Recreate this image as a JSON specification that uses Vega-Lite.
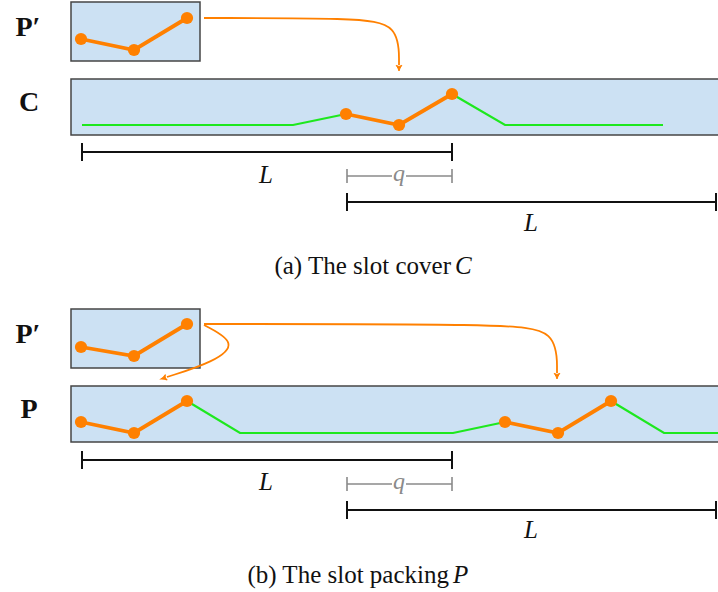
{
  "$schema": "https://vega.github.io/schema/vega-lite/v6.json",
  "width": 718,
  "height": 592,
  "autosize": {"type": "fit", "contains": "padding"},
  "padding": 0,
  "background": "white",
  "config": {"view": {"stroke": null}},
  "datasets": {
    "boxes": [
      {"name": "P' (a)", "x": 71, "x2": 200, "y": 2, "y2": 61},
      {"name": "C", "x": 71, "x2": 724, "y": 79, "y2": 135},
      {"name": "P' (b)", "x": 71, "x2": 200, "y": 309, "y2": 368},
      {"name": "P", "x": 71, "x2": 724, "y": 386, "y2": 442}
    ],
    "segments": [
      {"g": "a-green-1", "kind": "free", "x": 82, "y": 125},
      {"g": "a-green-1", "kind": "free", "x": 293, "y": 125},
      {"g": "a-green-1", "kind": "free", "x": 346, "y": 114},
      {"g": "a-green-2", "kind": "free", "x": 452, "y": 94},
      {"g": "a-green-2", "kind": "free", "x": 505, "y": 125},
      {"g": "a-green-2", "kind": "free", "x": 663, "y": 125},
      {"g": "b-green-1", "kind": "free", "x": 187, "y": 401},
      {"g": "b-green-1", "kind": "free", "x": 240, "y": 433},
      {"g": "b-green-1", "kind": "free", "x": 453, "y": 433},
      {"g": "b-green-1", "kind": "free", "x": 505, "y": 422},
      {"g": "b-green-2", "kind": "free", "x": 611, "y": 401},
      {"g": "b-green-2", "kind": "free", "x": 664, "y": 433},
      {"g": "b-green-2", "kind": "free", "x": 722, "y": 433},
      {"g": "a-piece", "kind": "piece", "x": 81, "y": 39},
      {"g": "a-piece", "kind": "piece", "x": 134, "y": 50},
      {"g": "a-piece", "kind": "piece", "x": 187, "y": 18},
      {"g": "a-cover", "kind": "piece", "x": 346, "y": 114},
      {"g": "a-cover", "kind": "piece", "x": 399, "y": 125},
      {"g": "a-cover", "kind": "piece", "x": 452, "y": 94},
      {"g": "b-piece", "kind": "piece", "x": 81, "y": 347},
      {"g": "b-piece", "kind": "piece", "x": 134, "y": 356},
      {"g": "b-piece", "kind": "piece", "x": 187, "y": 324},
      {"g": "b-pack-1", "kind": "piece", "x": 81, "y": 422},
      {"g": "b-pack-1", "kind": "piece", "x": 134, "y": 433},
      {"g": "b-pack-1", "kind": "piece", "x": 187, "y": 401},
      {"g": "b-pack-2", "kind": "piece", "x": 505, "y": 422},
      {"g": "b-pack-2", "kind": "piece", "x": 558, "y": 433},
      {"g": "b-pack-2", "kind": "piece", "x": 611, "y": 401}
    ],
    "arrows": [
      {"g": "a-shift", "o": 0, "x": 204, "y": 18},
      {"g": "a-shift", "o": 1, "x": 355, "y": 18},
      {"g": "a-shift", "o": 2, "x": 399, "y": 24},
      {"g": "a-shift", "o": 3, "x": 399, "y": 65},
      {"g": "b-loop", "o": 0, "x": 204, "y": 325},
      {"g": "b-loop", "o": 1, "x": 238, "y": 343},
      {"g": "b-loop", "o": 2, "x": 214, "y": 362},
      {"g": "b-loop", "o": 3, "x": 167, "y": 377},
      {"g": "b-shift", "o": 0, "x": 204, "y": 324},
      {"g": "b-shift", "o": 1, "x": 505, "y": 324},
      {"g": "b-shift", "o": 2, "x": 557, "y": 330},
      {"g": "b-shift", "o": 3, "x": 557, "y": 373}
    ],
    "heads": [
      {"g": "a-shift", "dir": "down", "x": 399, "y": 71},
      {"g": "b-shift", "dir": "down", "x": 557, "y": 379},
      {"g": "b-loop", "dir": "left", "x": 161, "y": 379}
    ],
    "spans": [
      {"kind": "L", "x": 82, "x2": 452, "y": 152},
      {"kind": "q", "x": 347, "x2": 452, "y": 176},
      {"kind": "L", "x": 347, "x2": 716, "y": 202},
      {"kind": "L", "x": 82, "x2": 452, "y": 460},
      {"kind": "q", "x": 347, "x2": 452, "y": 484},
      {"kind": "L", "x": 347, "x2": 716, "y": 510}
    ],
    "ends": [
      {"kind": "L", "x": 82, "y": 143, "y2": 161},
      {"kind": "L", "x": 452, "y": 143, "y2": 161},
      {"kind": "q", "x": 347, "y": 169, "y2": 183},
      {"kind": "q", "x": 452, "y": 169, "y2": 183},
      {"kind": "L", "x": 347, "y": 193, "y2": 211},
      {"kind": "L", "x": 716, "y": 193, "y2": 211},
      {"kind": "L", "x": 82, "y": 451, "y2": 469},
      {"kind": "L", "x": 452, "y": 451, "y2": 469},
      {"kind": "q", "x": 347, "y": 477, "y2": 491},
      {"kind": "q", "x": 452, "y": 477, "y2": 491},
      {"kind": "L", "x": 347, "y": 501, "y2": 519},
      {"kind": "L", "x": 716, "y": 501, "y2": 519}
    ],
    "labels": [
      {"role": "name", "t": "P′", "x": 28, "y": 28},
      {"role": "name", "t": "C", "x": 29, "y": 103},
      {"role": "name", "t": "P′", "x": 28, "y": 335},
      {"role": "name", "t": "P", "x": 29, "y": 410},
      {"role": "len", "t": "L", "x": 266, "y": 175},
      {"role": "len", "t": "L", "x": 531, "y": 223},
      {"role": "len", "t": "L", "x": 266, "y": 482},
      {"role": "len", "t": "L", "x": 531, "y": 530},
      {"role": "gap", "t": "q", "x": 399, "y": 175},
      {"role": "gap", "t": "q", "x": 399, "y": 483},
      {"role": "caption", "t": "(a) The slot cover", "x": 451, "y": 266},
      {"role": "captionvar", "t": "C", "x": 455, "y": 266},
      {"role": "caption", "t": "(b) The slot packing", "x": 449, "y": 575},
      {"role": "captionvar", "t": "P", "x": 453, "y": 575}
    ]
  },
  "encoding": {
    "x": {"field": "x", "type": "quantitative", "scale": {"domain": [0, 718], "nice": false, "zero": false}, "axis": null},
    "y": {"field": "y", "type": "quantitative", "scale": {"domain": [0, 592], "nice": false, "zero": false, "reverse": true}, "axis": null}
  },
  "layer": [
    {
      "data": {"name": "boxes"},
      "mark": {"type": "rect", "fill": "#cce1f3", "stroke": "#454545", "strokeWidth": 1.5, "clip": true},
      "encoding": {"x2": {"field": "x2"}, "y2": {"field": "y2"}}
    },
    {
      "data": {"name": "segments"},
      "transform": [{"filter": "datum.kind === 'free'"}],
      "mark": {"type": "line", "stroke": "#1ee81e", "strokeWidth": 2.2, "clip": true},
      "encoding": {"detail": {"field": "g"}}
    },
    {
      "data": {"name": "segments"},
      "transform": [{"filter": "datum.kind === 'piece'"}],
      "mark": {"type": "line", "stroke": "#ff8000", "strokeWidth": 3.8},
      "encoding": {"detail": {"field": "g"}}
    },
    {
      "data": {"name": "arrows"},
      "mark": {"type": "line", "stroke": "#ff8000", "strokeWidth": 1.8, "interpolate": "basis"},
      "encoding": {"detail": {"field": "g"}, "order": {"field": "o"}}
    },
    {
      "data": {"name": "heads"},
      "transform": [{"filter": "datum.dir === 'down'"}],
      "mark": {"type": "point", "shape": "M -1 -2 Q -0.3 -1.1 0 0 Q 0.3 -1.1 1 -2 Q 0 -1.2 -1 -2 Z", "filled": true, "fill": "#ff8000", "stroke": "#ff8000", "strokeWidth": 1, "size": 32, "opacity": 1}
    },
    {
      "data": {"name": "heads"},
      "transform": [{"filter": "datum.dir === 'left'"}],
      "mark": {"type": "point", "shape": "M -1 -2 Q -0.3 -1.1 0 0 Q 0.3 -1.1 1 -2 Q 0 -1.2 -1 -2 Z", "filled": true, "fill": "#ff8000", "stroke": "#ff8000", "strokeWidth": 1, "size": 32, "angle": 72, "opacity": 1}
    },
    {
      "data": {"name": "segments"},
      "transform": [{"filter": "datum.kind === 'piece'"}],
      "mark": {"type": "point", "shape": "circle", "filled": true, "fill": "#ff8000", "size": 150, "opacity": 1}
    },
    {
      "data": {"name": "spans"},
      "transform": [{"filter": "datum.kind === 'L'"}],
      "mark": {"type": "rule", "stroke": "#111111", "strokeWidth": 2},
      "encoding": {"x2": {"field": "x2"}}
    },
    {
      "data": {"name": "spans"},
      "transform": [{"filter": "datum.kind === 'q'"}],
      "mark": {"type": "rule", "stroke": "#8a8a8a", "strokeWidth": 1.6},
      "encoding": {"x2": {"field": "x2"}}
    },
    {
      "data": {"name": "ends"},
      "transform": [{"filter": "datum.kind === 'L'"}],
      "mark": {"type": "rule", "stroke": "#111111", "strokeWidth": 2},
      "encoding": {"y2": {"field": "y2"}}
    },
    {
      "data": {"name": "ends"},
      "transform": [{"filter": "datum.kind === 'q'"}],
      "mark": {"type": "rule", "stroke": "#8a8a8a", "strokeWidth": 1.6},
      "encoding": {"y2": {"field": "y2"}}
    },
    {
      "data": {"name": "labels"},
      "transform": [{"filter": "datum.role === 'gap'"}],
      "mark": {"type": "rect", "fill": "white", "width": 14, "height": 14}
    },
    {
      "data": {"name": "labels"},
      "transform": [{"filter": "datum.role === 'name'"}],
      "mark": {"type": "text", "font": "Liberation Serif", "fontWeight": "bold", "fontSize": 28, "align": "center", "baseline": "middle", "color": "#111111"},
      "encoding": {"text": {"field": "t"}}
    },
    {
      "data": {"name": "labels"},
      "transform": [{"filter": "datum.role === 'len'"}],
      "mark": {"type": "text", "font": "Liberation Serif", "fontStyle": "italic", "fontSize": 25, "align": "center", "baseline": "middle", "color": "#111111"},
      "encoding": {"text": {"field": "t"}}
    },
    {
      "data": {"name": "labels"},
      "transform": [{"filter": "datum.role === 'gap'"}],
      "mark": {"type": "text", "font": "Liberation Serif", "fontStyle": "italic", "fontSize": 24, "align": "center", "baseline": "middle", "color": "#8a8a8a", "dy": -1},
      "encoding": {"text": {"field": "t"}}
    },
    {
      "data": {"name": "labels"},
      "transform": [{"filter": "datum.role === 'caption'"}],
      "mark": {"type": "text", "font": "Liberation Serif", "fontSize": 25, "align": "right", "baseline": "middle", "color": "#111111"},
      "encoding": {"text": {"field": "t"}}
    },
    {
      "data": {"name": "labels"},
      "transform": [{"filter": "datum.role === 'captionvar'"}],
      "mark": {"type": "text", "font": "Liberation Serif", "fontStyle": "italic", "fontSize": 25, "align": "left", "baseline": "middle", "color": "#111111"},
      "encoding": {"text": {"field": "t"}}
    }
  ]
}
